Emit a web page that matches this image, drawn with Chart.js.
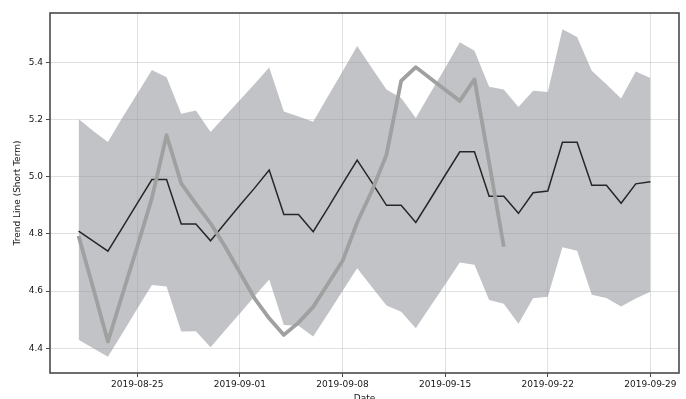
<!DOCTYPE html>
<html>
<head>
<meta charset="utf-8">
<script src="https://cdn.jsdelivr.net/npm/chart.js@4.4.1/dist/chart.umd.min.js"></script>
<style>
  html, body { margin: 0; padding: 0; overflow: hidden; background: #ffffff; }
  canvas { display: block; }
</style>
</head>
<body>
<canvas id="chart" width="686" height="412"></canvas>
<script>
// Daily dates of the forecast window
const dates = [
  '2019-08-21','2019-08-22','2019-08-23','2019-08-24','2019-08-25','2019-08-26','2019-08-27','2019-08-28',
  '2019-08-29','2019-08-30','2019-08-31','2019-09-01','2019-09-02','2019-09-03','2019-09-04','2019-09-05',
  '2019-09-06','2019-09-07','2019-09-08','2019-09-09','2019-09-10','2019-09-11','2019-09-12','2019-09-13',
  '2019-09-14','2019-09-15','2019-09-16','2019-09-17','2019-09-18','2019-09-19','2019-09-20','2019-09-21',
  '2019-09-22','2019-09-23','2019-09-24','2019-09-25','2019-09-26','2019-09-27','2019-09-28','2019-09-29'
];

// Fitted trend line
const trend = [
  4.81, 4.775, 4.74, 4.823, 4.907, 4.99, 4.99, 4.835,
  4.835, 4.776, 4.838, 4.90, 4.96, 5.023, 4.868, 4.868,
  4.808, 4.89, 4.975, 5.058, 4.98, 4.90, 4.90, 4.84,
  4.922, 5.005, 5.087, 5.087, 4.932, 4.932, 4.872, 4.944,
  4.95, 5.12, 5.12, 4.97, 4.97, 4.907, 4.975, 4.982
];

// Upper and lower bounds of the uncertainty band
const upper = [
  5.202, 5.16, 5.121, 5.208, 5.29, 5.373, 5.348, 5.22,
  5.231, 5.156, 5.212, 5.268, 5.324, 5.382, 5.228, 5.21,
  5.192, 5.28, 5.368, 5.457, 5.38, 5.305, 5.275, 5.205,
  5.293, 5.38, 5.47, 5.44, 5.314, 5.305, 5.244, 5.30,
  5.296, 5.515, 5.488, 5.37, 5.323, 5.273, 5.368, 5.345
];
const lower = [
  4.43, 4.40, 4.371, 4.454, 4.538, 4.621, 4.616, 4.459,
  4.46, 4.404, 4.463, 4.522, 4.582, 4.641, 4.482, 4.479,
  4.441, 4.52, 4.60, 4.68, 4.614, 4.55, 4.528, 4.47,
  4.547, 4.623, 4.70, 4.692, 4.569, 4.556, 4.486, 4.575,
  4.58, 4.753, 4.741, 4.587, 4.576, 4.546, 4.574, 4.598
];

// Observed values (available through 2019-09-19)
const actual = [
  4.793, 4.61, 4.424, 4.59, 4.755, 4.925, 5.145, 4.977,
  4.905, 4.837, 4.755, 4.665, 4.575, 4.505, 4.447, 4.49,
  4.545, 4.625, 4.705, 4.84, 4.95, 5.077, 5.335, 5.383,
  5.343, 5.304, 5.265, 5.34, 5.05, 4.755
];

// Axis tick labels
const xTickLabels = ['2019-08-25','2019-09-01','2019-09-08','2019-09-15','2019-09-22','2019-09-29'];
const yTickValues = [4.4, 4.6, 4.8, 5.0, 5.2, 5.4];

const DAY = 86400000;
const t0 = Date.parse(dates[0]);
const dayOf = d => (Date.parse(d) - t0) / DAY;
const pts = arr => arr.map((v, i) => ({ x: dayOf(dates[i]), y: v }));

// 5% margins around the data, as a default matplotlib axis would have
const xSpan = dayOf(dates[dates.length - 1]);
const allY = upper.concat(lower, actual, trend);
const yLo = Math.min(...allY), yHi = Math.max(...allY);
const ySpan = yHi - yLo;

const FONT = { family: 'DejaVu Sans', size: 9 };
const TEXT = '#161616';

const frame = {
  id: 'frame',
  afterDatasetsDraw(chart) {
    const { ctx, chartArea: a } = chart;
    ctx.save();
    ctx.strokeStyle = '#4a4a4a';
    ctx.lineWidth = 1.6;
    ctx.strokeRect(a.left, a.top, a.right - a.left, a.bottom - a.top);
    ctx.restore();
  }
};

new Chart(document.getElementById('chart'), {
  type: 'line',
  data: {
    datasets: [
      {
        label: 'upper',
        data: pts(upper),
        borderWidth: 0,
        borderColor: 'rgba(0,0,0,0)',
        backgroundColor: 'rgba(148,152,158,0.58)',
        fill: '+1',
        pointRadius: 0,
        tension: 0,
        order: 4
      },
      {
        label: 'lower',
        data: pts(lower),
        borderWidth: 0,
        borderColor: 'rgba(0,0,0,0)',
        fill: false,
        pointRadius: 0,
        tension: 0,
        order: 4
      },
      {
        label: 'trend',
        data: pts(trend),
        borderColor: '#262626',
        borderWidth: 1.5,
        fill: false,
        pointRadius: 0,
        tension: 0,
        order: 2
      },
      {
        label: 'actual',
        data: pts(actual),
        borderColor: '#a0a0a0',
        borderWidth: 3.8,
        fill: false,
        pointRadius: 0,
        tension: 0,
        borderCapStyle: 'butt',
        borderJoinStyle: 'round',
        order: 1
      }
    ]
  },
  options: {
    responsive: false,
    animation: false,
    events: [],
    layout: { padding: { left: 0, right: 7, top: 13, bottom: 0 } },
    plugins: { legend: { display: false }, tooltip: { enabled: false } },
    scales: {
      x: {
        type: 'linear',
        min: -0.05 * xSpan,
        max: xSpan * 1.05,
        afterBuildTicks: s => { s.ticks = xTickLabels.map(d => ({ value: dayOf(d) })); },
        afterFit: s => { s.height = 39; },
        ticks: {
          autoSkip: false,
          maxRotation: 0,
          padding: 2,
          color: TEXT,
          font: FONT,
          callback: (v, i) => xTickLabels[i]
        },
        grid: { color: 'rgba(120,120,120,0.22)', lineWidth: 1, tickLength: 4, tickColor: '#4a4a4a' },
        border: { display: false },
        title: { display: true, text: 'Date', color: TEXT, font: FONT, padding: { top: 0, bottom: 8 } }
      },
      y: {
        type: 'linear',
        min: yLo - 0.05 * ySpan,
        max: yHi + 0.05 * ySpan,
        afterBuildTicks: s => { s.ticks = yTickValues.map(v => ({ value: v })); },
        afterFit: s => { s.width = 50; },
        ticks: {
          padding: 3,
          color: TEXT,
          font: FONT,
          callback: v => Number(v).toFixed(1)
        },
        grid: { color: 'rgba(120,120,120,0.22)', lineWidth: 1, tickLength: 4, tickColor: '#4a4a4a' },
        border: { display: false },
        title: { display: true, text: 'Trend Line (Short Term)', color: TEXT, font: FONT, padding: { top: 12.6, bottom: 0 } }
      }
    }
  },
  plugins: [frame]
});
</script>
</body>
</html>
